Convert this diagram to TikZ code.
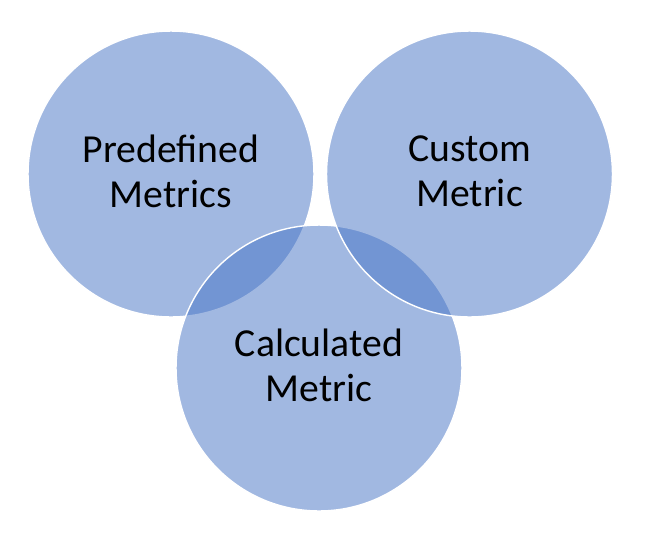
\documentclass[tikz,border=0pt]{standalone}
\usepackage{fontspec}
\setmainfont{Carlito}
\definecolor{vennblue}{HTML}{4472C4}
\tikzset{
	venn/.style={circle, minimum size=5.72cm, inner sep=0pt, fill=vennblue, fill opacity=0.5, text opacity=1, draw=white, line width=0.8pt, align=center, font=\fontsize{22.6}{25.5}\selectfont},
	vennlabel/.style={align=center, font=\fontsize{22.6}{25.5}\selectfont}
}
\begin{document}
\begin{tikzpicture}[x=0.02cm, y=-0.02cm]
		\useasboundingbox (0,0) rectangle (660,542);
		
		%Left circle
		\node[venn] (predef) at (171,174) {};
		\node[vennlabel] (predeftext) at (171,171) {Predefined\\Metrics};
		
		%Bottom circle
		\node[venn] (calc) at (319,368) {};
		\node[vennlabel] (calctext) at (319,365) {Calculated\\Metric};
		
		%Right circle
		\node[venn] (custom) at (469.5,174) {};
		\node[vennlabel] (customtext) at (469.5,171) {Custom\\Metric};
		
	\end{tikzpicture}
\end{document}
